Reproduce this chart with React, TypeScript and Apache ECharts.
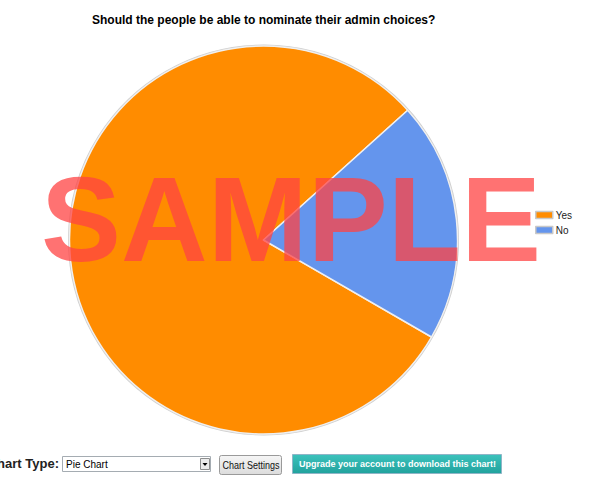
import React, { useEffect, useRef } from "react";
import * as echarts from "echarts";

const titleText = "Should the people be able to nominate their admin choices?";
const categories = ["Yes", "No"];
const values = [80, 20];
const colors = ["#FF8C00", "#6495ED"];
const FONT = "'Liberation Sans', Arial, sans-serif";

export default function App() {
  const ref = useRef<HTMLDivElement>(null);
  useEffect(() => {
    if (!ref.current) return;
    const chart = echarts.init(ref.current, undefined, { renderer: "svg" });
    chart.setOption({
      animation: false,
      backgroundColor: "#fff",
      title: {
        text: titleText,
        left: 92,
        top: 14,
        padding: 0,
        textStyle: { fontFamily: FONT, fontSize: 12, fontWeight: "bold", color: "#000" },
      },
      legend: {
        orient: "vertical",
        left: 535,
        top: 210,
        padding: 0,
        itemWidth: 17,
        itemHeight: 7,
        itemGap: 5,
        icon: "rect",
        data: categories,
        textStyle: { fontFamily: FONT, fontSize: 10, color: "#222", padding: [0, 0, 0, -2] },
        itemStyle: { borderColor: "#c8c8c8", borderWidth: 1.5 },
      },
      graphic: [
        {
          type: "circle",
          shape: { cx: 263.5, cy: 240, r: 194.5 },
          style: { fill: "none", stroke: "#cfcfcf", lineWidth: 2 },
          z: -1,
        },
        {
          type: "text",
          x: 41,
          y: 219,
          z: 100,
          style: {
            text: "SAMPLE",
            fontFamily: FONT,
            fontSize: 120,
            fontWeight: "bold",
            fill: "rgba(255,67,67,0.75)",
            textAlign: "left",
            textVerticalAlign: "middle",
          },
        },
        {
          type: "text",
          x: 59,
          y: 463.5,
          style: {
            text: "Chart Type:",
            fontFamily: FONT,
            fontSize: 13,
            fontWeight: "bold",
            fill: "#222",
            textAlign: "right",
            textVerticalAlign: "middle",
          },
        },
        {
          type: "rect",
          shape: { x: 62.5, y: 456.5, width: 148, height: 15 },
          style: { fill: "#fff", stroke: "#a5acb2", lineWidth: 1 },
        },
        {
          type: "text",
          x: 66,
          y: 464,
          style: {
            text: "Pie Chart",
            fontFamily: FONT,
            fontSize: 10,
            fill: "#000",
            textAlign: "left",
            textVerticalAlign: "middle",
          },
        },
        {
          type: "rect",
          shape: { x: 200.5, y: 458.5, width: 9, height: 11 },
          style: { fill: "#ececec", stroke: "#8e8f8f", lineWidth: 1 },
        },
        {
          type: "polygon",
          shape: { points: [[202.5, 463], [207.5, 463], [205, 466]] },
          style: { fill: "#000" },
        },
        {
          type: "rect",
          shape: { x: 219.5, y: 455.5, width: 62, height: 19, r: 2 },
          style: {
            fill: new echarts.graphic.LinearGradient(0, 0, 0, 1, [
              { offset: 0, color: "#f6f6f6" },
              { offset: 1, color: "#dcdcdc" },
            ]),
            stroke: "#9a9a9a",
            lineWidth: 1,
          },
        },
        {
          type: "text",
          x: 222.5,
          y: 465,
          scaleX: 0.9,
          style: {
            text: "Chart Settings",
            fontFamily: FONT,
            fontSize: 10,
            fill: "#111",
            textAlign: "left",
            textVerticalAlign: "middle",
          },
        },
        {
          type: "rect",
          shape: { x: 292.5, y: 454.5, width: 209, height: 19 },
          style: {
            fill: new echarts.graphic.LinearGradient(0, 0, 0, 1, [
              { offset: 0, color: "#3cc2bc" },
              { offset: 1, color: "#21a29d" },
            ]),
            stroke: "#8fb5c7",
            lineWidth: 1,
          },
        },
        {
          type: "text",
          x: 299,
          y: 464,
          style: {
            text: "Upgrade your account to download this chart!",
            fontFamily: FONT,
            fontSize: 9,
            fontWeight: "bold",
            fill: "#fff",
            textAlign: "left",
            textVerticalAlign: "middle",
          },
        },
      ],
      series: [
        {
          type: "pie",
          center: [263.5, 240],
          radius: 194,
          startAngle: -30,
          clockwise: true,
          label: { show: false },
          labelLine: { show: false },
          emphasis: { disabled: true },
          itemStyle: { borderColor: "#f0f0f0", borderWidth: 1.5 },
          data: categories.map((c, i) => ({
            name: c,
            value: values[i],
            itemStyle: { color: colors[i] },
          })),
        },
      ],
    });
    return () => chart.dispose();
  }, []);
  return (
    <div
      ref={ref}
      style={{ position: "absolute", left: 0, top: 0, width: 609, height: 480 }}
    />
  );
}
